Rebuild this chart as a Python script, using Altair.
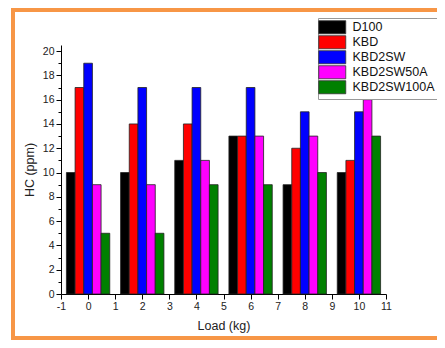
import altair as alt
import pandas as pd

loads = [0, 2, 4, 6, 8, 10]
series = ["D100", "KBD", "KBD2SW", "KBD2SW50A", "KBD2SW100A"]
colors = ["#000000", "#FF0000", "#0000FF", "#FF00FF", "#008000"]
d100 = [10, 10, 11, 13, 9, 10]
kbd = [17, 14, 14, 13, 12, 11]
kbd2sw = [19, 17, 17, 17, 15, 15]
kbd2sw50a = [9, 9, 11, 13, 13, 16]
kbd2sw100a = [5, 5, 9, 9, 10, 13]
values = [d100, kbd, kbd2sw, kbd2sw50a, kbd2sw100a]

rows = []
for i, (name, vals) in enumerate(zip(series, values)):
    for l, v in zip(loads, vals):
        rows.append({"load": l, "series": name, "idx": i, "hc": v})
df = pd.DataFrame(rows)

FONT = "Liberation Sans"
ORANGE = "#F79646"

bars = alt.Chart(df).transform_calculate(
    x0="datum.load - 0.8 + datum.idx * 0.32",
    x1="datum.load - 0.48 + datum.idx * 0.32",
    base="0",
).mark_bar(stroke="#222222", strokeWidth=0.8).encode(
    x=alt.X("x0:Q", scale=alt.Scale(domain=[-1, 11], nice=False, zero=False),
            axis=alt.Axis(values=list(range(-1, 12)), title="Load (kg)", grid=False,
                          labelExpr="'' + datum.value",
                          tickSize=5, labelFontSize=10.5, titleFontSize=12.5,
                          titleFontWeight="normal", labelPadding=2, titlePadding=8,
                          domainColor="#000", tickColor="#000", labelColor="#222",
                          titleColor="#222", labelFont=FONT, titleFont=FONT,
                          labelFlush=False)),
    x2="x1:Q",
    y=alt.Y("hc:Q", scale=alt.Scale(domain=[0, 20.5], nice=False),
            axis=alt.Axis(values=list(range(0, 21)), title="HC (ppm)", grid=False,
                          tickSize={"condition": {"test": "datum.value % 2 === 0", "value": 5}, "value": 3},
                          labelExpr="datum.value % 2 === 0 ? datum.label : ''",
                          labelFontSize=10.5, titleFontSize=12.5, titleFontWeight="normal",
                          labelPadding=2, titlePadding=6, domainColor="#000", tickColor="#000",
                          labelColor="#222", titleColor="#222", labelFont=FONT, titleFont=FONT)),
    y2="base:Q",
    color=alt.Color("series:N", scale=alt.Scale(domain=series, range=colors),
                    sort=series,
                    legend=alt.Legend(title=None, orient="none", legendX=257, legendY=-27,
                                      symbolType="M-3,-1.45H3V1.45H-3Z", symbolSize=81,
                                      symbolStrokeColor="#333", symbolStrokeWidth=0.8,
                                      symbolOffset=5, labelOffset=14,
                                      labelFontSize=12.5, labelFont=FONT, labelColor="#111",
                                      labelBaseline="middle",
                                      strokeColor="#999999", padding=3, rowPadding=-3.5,
                                      fillColor="white", symbolOpacity=1)),
)

frame_left = alt.Chart(df).mark_rule(color=ORANGE, strokeWidth=4).encode(
    x=alt.value(-48), y=alt.value(-37), y2=alt.value(295))
frame_top = alt.Chart(df).mark_rule(color=ORANGE, strokeWidth=3.5).encode(
    x=alt.value(-50), x2=alt.value(400), y=alt.value(-35.2))
frame_bottom = alt.Chart(df).mark_rule(color=ORANGE, strokeWidth=4).encode(
    x=alt.value(-50), x2=alt.value(400), y=alt.value(293))

chart = alt.layer(bars, frame_left, frame_top, frame_bottom).properties(
    width=325, height=249,
    padding={"left": 53, "top": 37, "right": 51, "bottom": 46},
    autosize=alt.AutoSizeParams(type="none"),
    background="white",
).configure_view(stroke=None)

chart.save("out.html", embed_options={"renderer": "svg", "actions": False})
